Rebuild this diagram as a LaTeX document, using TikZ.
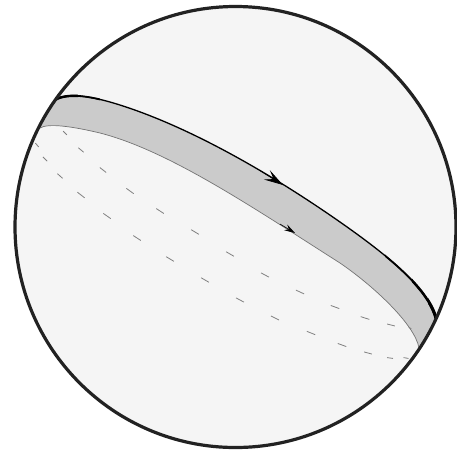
\documentclass[tikz,border=0pt]{standalone}
\usetikzlibrary{arrows.meta}
\definecolor{discgray}{HTML}{F5F5F5}
\definecolor{bandgray}{HTML}{CBCBCB}
\definecolor{rimgray}{HTML}{222222}
\newcommand{\upperedge}{(53,101) .. controls (65,93) and (85,95) .. (110,102) .. controls (190,125) and (280,180) .. (340,222) .. controls (385,253.5) and (432,290) .. (437,323)}
\newcommand{\loweredge}{(40,128) .. controls (48,123) and (72,126.3) .. (100,133) .. controls (170,151) and (255,209) .. (340,263) .. controls (375,287) and (415,325) .. (419,348)}
\begin{document}
\begin{tikzpicture}
  [
  x=1pt, y=-1pt,
  rim/.style={draw=rimgray, line width=3.2pt},
  upperline/.style={draw=black, line width=1.3pt},
  lowerline/.style={draw=black!55, line width=0.7pt},
  hidden/.style={draw=black!50, line width=0.8pt},
  tipbig/.style={-{Stealth[length=19pt, width=11pt, inset=8pt]}, black, line width=0.7pt},
  tipsmall/.style={-{Stealth[length=11pt, width=6.5pt, inset=4pt]}, black, line width=0.6pt}
  ]
  \useasboundingbox (0,0) rectangle (457,451);
  \node[circle, fill=discgray, minimum size=441pt, inner sep=0pt] (disc) at (235.5,227) {};
  \begin{scope}
    \clip (235.5,227) circle (220.5);
    \fill[bandgray] \upperedge -- (470,340) -- (470,470) -- (0,470) -- (0,101) -- cycle;
    \fill[discgray] \loweredge -- (419,470) -- (0,470) -- (0,128) -- cycle;
    \draw[upperline] \upperedge;
    % line gets heavier towards both ends
    \foreach \xa/\xb/\wd in {40/100/1.8, 40/78/2.4, 385/460/1.8, 412/460/2.5, 428/460/3.1} {
      \begin{scope}
        \clip (\xa,60) rectangle (\xb,350);
        \draw[upperline, line width=\wd pt] \upperedge;
      \end{scope}
    }
    \draw[lowerline] \loweredge;
  \end{scope}
  % hidden side of the two circles
  \foreach \px/\py/\ang/\len in {65/133/45/5, 81/150/40/7, 103/170/38/8, 130/191/36/9, 160/211/33/9, 195/232/31/9, 230/254/30/9, 265/275/28/9, 300/292/25/9, 335/307/20/9, 365/318/18/9, 391/325/14/8, 410/328/30/3,
    37/145/50/5, 45/159/45/6, 60/176/42/7, 81/195/38/9, 107/216/35/9, 137/238/33/9, 170/259/31/9, 205/280/30/9, 240/300/28/9, 275/318/26/9, 311/333/22/9, 342/345/20/9, 368/353/15/8, 390/358/8/6, 406/358/10/5}
    \draw[hidden] (\px,\py) ++(\ang:\len/2) -- ++(\ang+180:\len);
  \coordinate (bigfrom) at (260,170.5);
  \coordinate (bigto) at (283,185);
  \coordinate (smallfrom) at (280,224);
  \coordinate (smallto) at (295,233);
  \draw[tipbig] (bigfrom) -- (bigto);
  \draw[tipsmall] (smallfrom) -- (smallto);
  \node[circle, rim, minimum size=441pt, inner sep=0pt] (rimline) at (235.5,227) {};
\end{tikzpicture}
\end{document}
